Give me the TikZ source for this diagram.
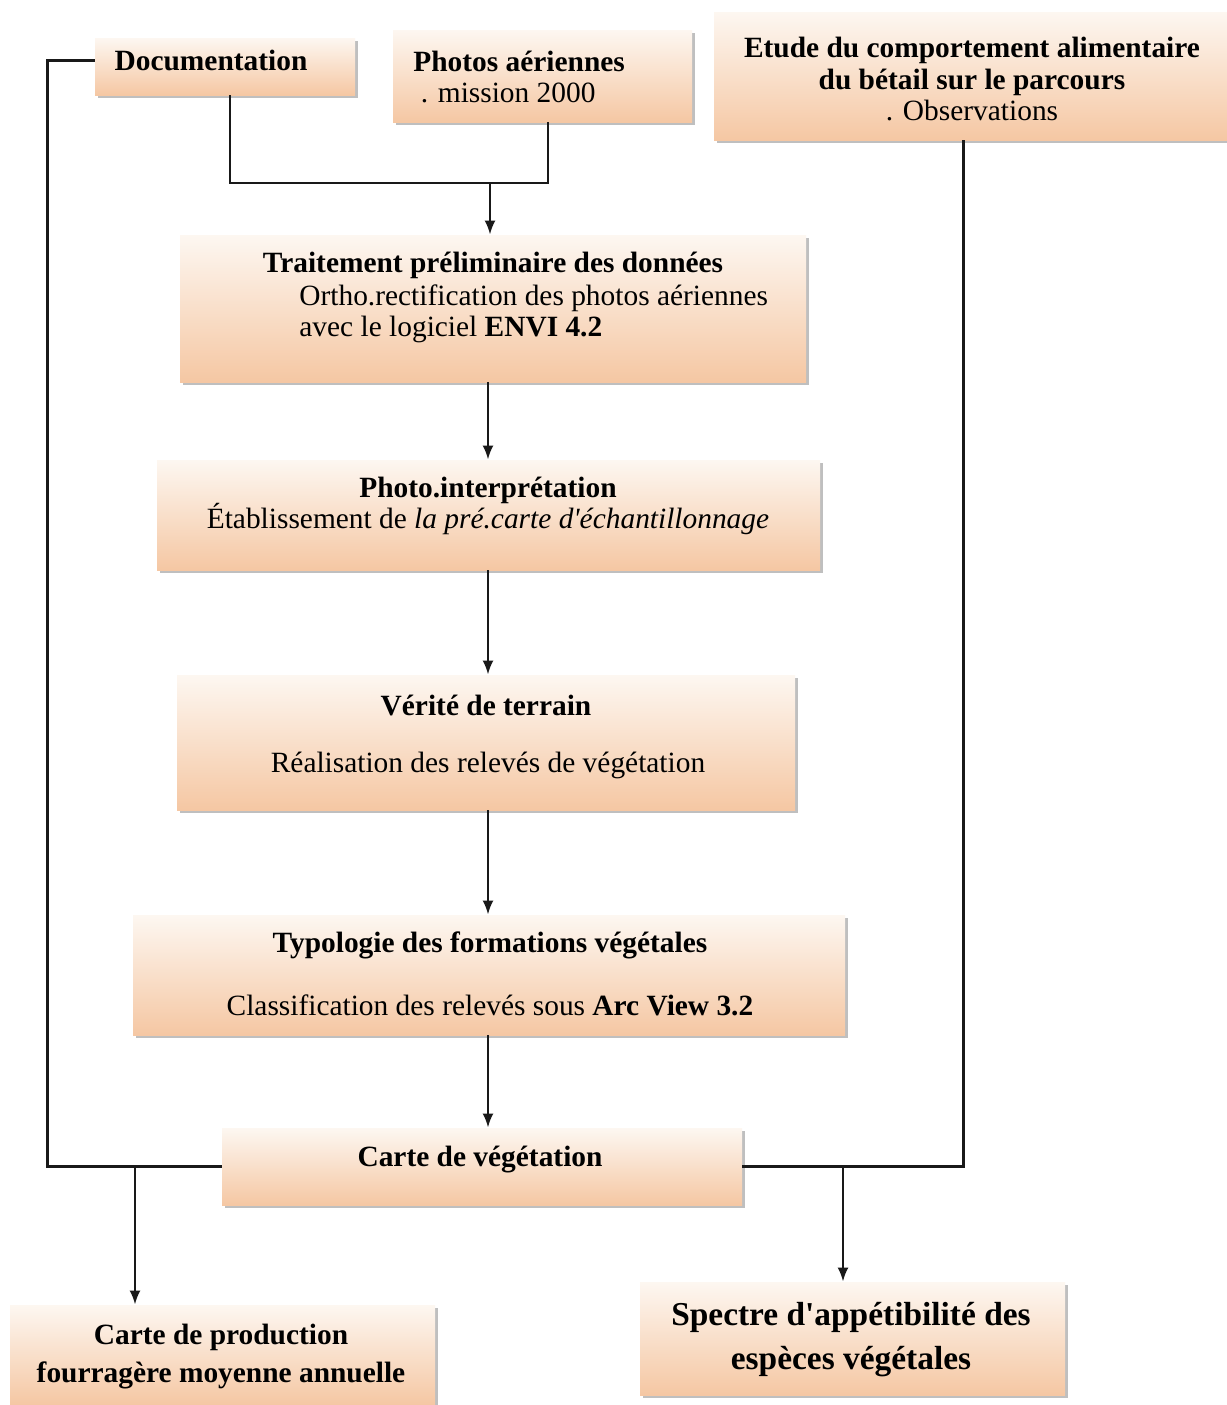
\documentclass[tikz,border=0pt]{standalone}
\usepackage{fontspec}
\setmainfont{Liberation Serif}
\newfontfamily\plainserif{Liberation Serif}
\usetikzlibrary{shadows,arrows.meta}
\definecolor{boxtop}{RGB}{253,247,241}
\definecolor{boxbot}{RGB}{245,199,163}
\newcommand\txt{\fontsize{14.7}{15.8}\selectfont}
\newcommand\txtb{\fontsize{16.7}{22}\selectfont}
\newcommand\apos{{\plainserif\char"0027}}
\begin{document}
\begin{tikzpicture}[x=0.5pt,y=-0.5pt,
  box/.style={rectangle, inner sep=0pt, draw=none, top color=boxtop, bottom color=boxbot,
    drop shadow={shadow xshift=1.6pt, shadow yshift=-1.6pt, fill=black!45, opacity=0.55}},
  lbl/.style={inner sep=0pt, font=\txt, align=center},
  conn/.style={line width=1.2pt, draw=black!90},
  arr/.style={conn, -{Latex[length=7pt,width=5.5pt]}}]
\useasboundingbox (0,0) rectangle (1227,1405);
\fill[white] (0,0) rectangle (1227,1405);
% boxes
\newcommand\bx[5]{\node[box, minimum width={(#4-#2)*0.5pt}, minimum height={(#5-#3)*0.5pt}] (#1) at ({(#2+#4)/2},{(#3+#5)/2}) {};}
\bx{doc}{95}{38}{355}{95}
\bx{pho}{393}{30}{692}{122}
\bx{etu}{714}{12}{1227}{140}
\bx{tra}{180}{235}{806}{382}
\bx{phi}{157}{460}{820}{570}
\bx{ver}{177}{675}{795}{810}
\bx{typ}{133}{915}{845}{1035}
\bx{car}{222}{1128}{742}{1205}
\bx{pro}{10}{1305}{435}{1405}
\bx{spe}{640}{1282}{1065}{1395}
% texts
\node[lbl] (doc-t) at (211,60) {\textbf{Documentation}};
\node[lbl, anchor=west, align=left] (pho-t) at (413,77) {\textbf{Photos aériennes}\\\ . mission 2000};
\node[lbl] (etu-t) at (972,79) {\textbf{Etude du comportement alimentaire}\\\textbf{du bétail sur le parcours}\\. Observations};
\node[lbl] (tra-t) at (493,265) {\textbf{Traitement préliminaire des données}};
\node[lbl, anchor=west, align=left] (tra-s) at (299,314) {Ortho.rectification des photos aériennes\\avec le logiciel \textbf{ENVI 4.2}};
\node[lbl] (phi-t) at (488,506) {\textbf{Photo.interprétation}\\Établissement de \textit{la pré.carte d\apos échantillonnage}};
\node[lbl] (ver-t) at (486,705) {\textbf{Vérité de terrain}};
\node[lbl] (ver-s) at (488,765) {Réalisation des relevés de végétation};
\node[lbl] (typ-t) at (490,945) {\textbf{Typologie des formations végétales}};
\node[lbl] (typ-s) at (490,1005) {Classification des relevés sous \textbf{Arc View 3.2}};
\node[lbl] (car-t) at (480,1160) {\textbf{Carte de végétation}};
\node[lbl, font=\fontsize{14.7}{19}\selectfont] (pro-t) at (221,1357) {\textbf{Carte de production}\\\textbf{fourragère moyenne annuelle}};
\node[lbl, font=\txtb] (spe-t) at (851,1340) {\textbf{Spectre d\apos appétibilité des}\\\textbf{espèces végétales}};
% connectors
\coordinate (j1) at (490,183);
\coordinate (cx) at (488,0);
\coordinate (jl) at (135,1166);
\coordinate (jr) at (843,1166);
\draw[conn] ([xshift=2.5pt]doc.south) |- (j1);
\draw[conn] ([xshift=2.7pt]pho.south) |- (j1);
\draw[arr] (j1) -- (j1 |- tra.north);
\draw[arr] (tra.south -| cx) -- (phi.north -| cx);
\draw[arr] (phi.south -| cx) -- (ver.north -| cx);
\draw[arr] (ver.south -| cx) -- (typ.north -| cx);
\draw[arr] (typ.south -| cx) -- (car.north -| cx);
\draw[conn] ([yshift=3pt]doc.west) -- ++(-47,0) |- (car.west);
\draw[conn] ([xshift=-3.5pt]etu.south) |- (car.east);
\draw[arr] (jl |- car.west) -- (jl |- pro.north);
\draw[arr] (jr |- car.east) -- (jr |- spe.north);
\end{tikzpicture}
\end{document}
